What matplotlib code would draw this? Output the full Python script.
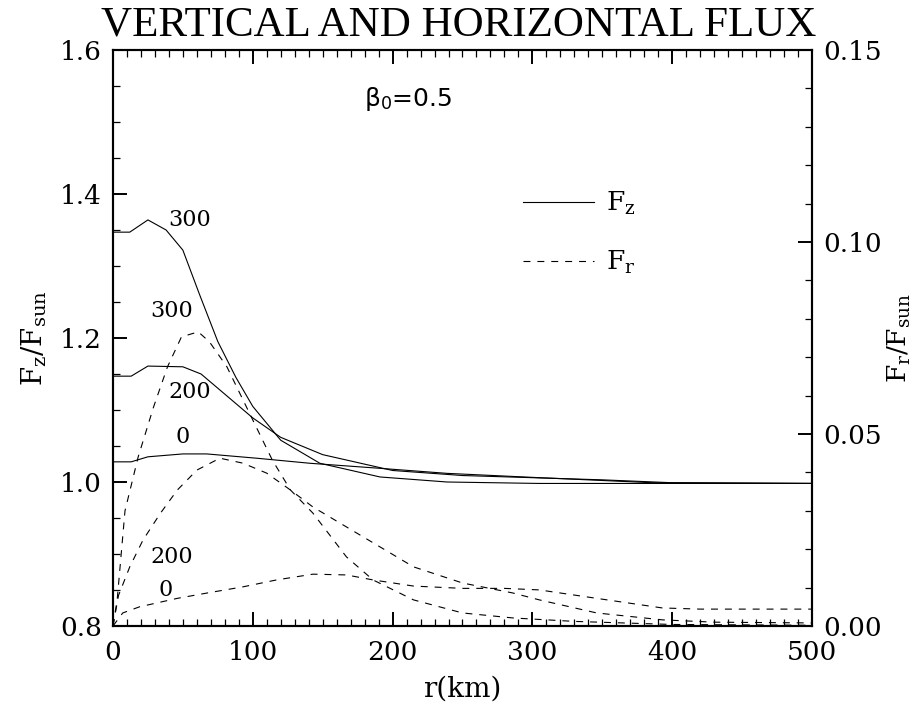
import numpy as np
import matplotlib
matplotlib.use('Agg')
import matplotlib.pyplot as plt

plt.rcParams['font.family'] = ['DejaVu Serif']
plt.rcParams['mathtext.fontset'] = 'dejavuserif'
plt.rcParams['lines.scale_dashes'] = False

# vertical flux F_z/F_sun (left axis), r in km
r_fz0 = [0, 13, 25, 50, 67, 103, 141, 191, 239, 305, 386, 500]
fz0 = [1.028, 1.028, 1.035, 1.039, 1.039, 1.033, 1.026, 1.019, 1.012, 1.006, 0.999, 0.998]
r_fz200 = [0, 13, 25, 50, 63, 80, 100, 120, 150, 200, 250, 300, 350, 400, 500]
fz200 = [1.147, 1.147, 1.161, 1.160, 1.150, 1.122, 1.089, 1.062, 1.038, 1.016, 1.009, 1.006, 1.003, 0.999, 0.998]
r_fz300 = [0, 12, 25, 38, 50, 62, 75, 88, 100, 120, 148, 191, 239, 305, 400, 500]
fz300 = [1.347, 1.347, 1.364, 1.350, 1.322, 1.260, 1.195, 1.145, 1.105, 1.058, 1.026, 1.007, 1.000, 0.998, 0.998, 0.998]

# horizontal flux F_r/F_sun (right axis)
r_fr0 = [0, 7, 19, 46, 69, 93, 117, 143, 167, 186, 215, 250, 280, 305, 346, 393, 420, 500]
fr0 = [0, 0.0034, 0.005, 0.0072, 0.0087, 0.0102, 0.012, 0.0135, 0.0133, 0.012, 0.0104, 0.0098, 0.0098, 0.0094, 0.0072, 0.0047, 0.0044, 0.0044]
r_fr200 = [0, 4, 12, 21.5, 34, 46, 60, 76.5, 93, 110, 127, 143, 167, 191, 215, 250, 286, 305, 346, 393, 430, 500]
fr200 = [0, 0.008, 0.0154, 0.0224, 0.0294, 0.0354, 0.0406, 0.0437, 0.0424, 0.0398, 0.0354, 0.031, 0.0258, 0.0206, 0.0154, 0.0112, 0.0086, 0.0068, 0.0034, 0.0016, 0.001, 0.0008]
r_fr300 = [0, 3, 8.6, 18, 29, 39, 49, 61, 69, 81.5, 99, 114, 127, 143, 167, 186, 215, 250, 286, 330, 400, 500]
fr300 = [0, 0.0068, 0.030, 0.044, 0.057, 0.0675, 0.0753, 0.0766, 0.074, 0.0675, 0.0544, 0.0432, 0.0354, 0.0294, 0.018, 0.012, 0.0068, 0.0034, 0.0021, 0.0012, 0.0004, 0.0002]

# curve labels: (text, r, F_z-axis value)
curve_labels = [('300', 55, 1.364), ('300', 42, 1.237), ('200', 55, 1.125),
                ('0', 50, 1.062), ('200', 42, 0.896), ('0', 38, 0.850)]

fig = plt.figure(figsize=(9.17, 7.06), dpi=100)
ax = fig.add_axes([0.1232, 0.1133, 0.7623, 0.8159])
ax2 = ax.twinx()

lw = 0.8
l_fz, = ax.plot(r_fz300, fz300, 'k-', lw=lw)
ax.plot(r_fz200, fz200, 'k-', lw=lw)
ax.plot(r_fz0, fz0, 'k-', lw=lw)
l_fr, = ax2.plot(r_fr300, fr300, 'k', lw=lw, dashes=(5, 5))
ax2.plot(r_fr200, fr200, 'k', lw=lw, dashes=(5, 5))
ax2.plot(r_fr0, fr0, 'k', lw=lw, dashes=(5, 5))

for t, x, y in curve_labels:
    ax.text(x, y, t, fontsize=16, ha='center', va='center')

ax.set_xlim(0, 500)
ax.set_ylim(0.8, 1.6)
ax2.set_ylim(0, 0.15)

ax.set_xticks([0, 100, 200, 300, 400, 500])
ax.set_xticks(np.arange(0, 501, 10), minor=True)
ax.set_yticks([0.8, 1.0, 1.2, 1.4, 1.6])
ax.set_yticks(np.arange(0.8, 1.601, 0.05), minor=True)
ax.set_yticklabels(['0.8', '1.0', '1.2', '1.4', '1.6'])
ax2.set_yticks([0.0, 0.05, 0.10, 0.15])
ax2.set_yticks(np.arange(0, 0.1501, 0.01), minor=True)
ax2.set_yticklabels(['0.00', '0.05', '0.10', '0.15'])

ax.tick_params(axis='x', which='both', direction='in', top=True, bottom=True)
ax.tick_params(axis='y', which='both', direction='in', left=True, right=False)
ax.tick_params(which='major', length=10, width=1.4, labelsize=19, pad=8)
ax.tick_params(which='minor', length=5, width=0.9)
ax.tick_params(axis='x', which='major', pad=10)
ax2.tick_params(axis='y', which='both', direction='in')
ax2.tick_params(which='major', length=10, width=1.4, labelsize=19, pad=8)
ax2.tick_params(which='minor', length=5, width=0.9)
for a in (ax, ax2):
    for s in a.spines.values():
        s.set_linewidth(1.5)

ax.set_xlabel('r(km)', fontsize=20, labelpad=8)
ax.set_ylabel(r'$\mathrm{F_z/F_{sun}}$', fontsize=20, labelpad=8)
ax2.set_ylabel(r'$\mathrm{F_r/F_{sun}}$', fontsize=19, labelpad=3, rotation=90)

fig.text(0.50, 0.964, 'VERTICAL AND HORIZONTAL FLUX', ha='center', va='center',
         fontsize=31, family='Liberation Serif')

ax.text(0.422, 0.915, r'β$_\mathregular{0}$=0.5', transform=ax.transAxes, ha='center', va='center',
        fontsize=18, family='DejaVu Sans')

ax2.legend([l_fz, l_fr], [r'$\mathrm{F_z}$', r'$\mathrm{F_r}$'], loc='upper left',
           bbox_to_anchor=(0.568, 0.78), frameon=False, fontsize=19,
           handlelength=2.7, handletextpad=0.45, labelspacing=1.2, borderpad=0)

fig.savefig('out.png', dpi=100)
